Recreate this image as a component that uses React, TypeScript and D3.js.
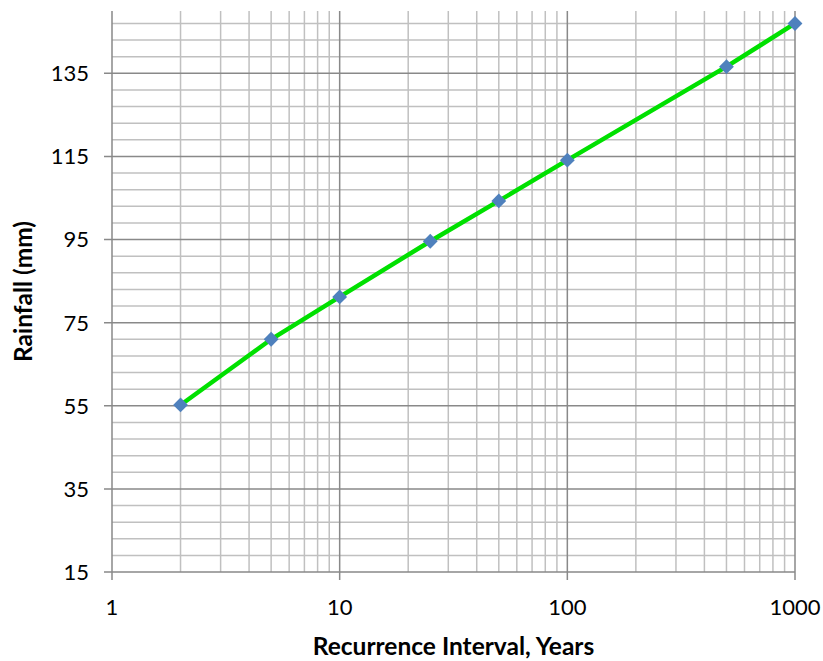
import React from 'react'
import * as d3 from 'd3'

const years = [2, 5, 10, 25, 50, 100, 500, 1000]
const rainfall = [55.2, 71.0, 81.2, 94.6, 104.3, 114.1, 136.6, 147.0]
const yTicks = [15, 35, 55, 75, 95, 115, 135]
const xTicks = [1, 10, 100, 1000]

const W = 823
const H = 661
const margin = { left: 112, right: 28, top: 11, bottom: 89 }

const App: React.FC = () => {
    const x = d3.scaleLog().domain([1, 1000]).range([margin.left, W - margin.right])
    const y = d3.scaleLinear().domain([15, 150]).range([H - margin.bottom, margin.top])

    // minor grid: 2..9 per decade, every 4 mm
    const xMinor: number[] = []
    for (const d of [1, 10, 100]) for (let k = 2; k <= 9; k++) xMinor.push(d * k)
    const yMinor = d3.range(15, 151, 4).filter((v) => (v - 15) % 20 !== 0)

    const line = d3
        .line<number>()
        .x((_, i) => x(years[i]))
        .y((d) => y(d))

    const font = 'Lato, sans-serif'
    const diamond = d3.symbol(d3.symbolSquare, 110)()

    return (
        <svg
            width={W}
            height={H}
            style={{ position: 'fixed', left: 0, top: 0, background: '#fff' }}
        >
            <g>
                {yMinor.map((v) => (
                    <line key={'ym' + v} x1={x(1)} x2={x(1000)} y1={y(v)} y2={y(v)} stroke="#c0c0c0" strokeWidth={1.5} />
                ))}
                {xMinor.map((v) => (
                    <line key={'xm' + v} x1={x(v)} x2={x(v)} y1={y(15)} y2={y(150)} stroke="#c0c0c0" strokeWidth={1.5} />
                ))}
                {yTicks.map((v) => (
                    <line key={'yM' + v} x1={x(1) - 8} x2={x(1000)} y1={y(v)} y2={y(v)} stroke="#898989" strokeWidth={1.5} />
                ))}
                {xTicks.map((v) => (
                    <line key={'xM' + v} x1={x(v)} x2={x(v)} y1={y(150)} y2={y(15) + 8} stroke="#898989" strokeWidth={1.5} />
                ))}
            </g>
            <g fontFamily={font} fontSize={22} fill="#000">
                {yTicks.map((v) => (
                    <text key={'yl' + v} x={x(1) - 23} y={y(v)} dy="0.36em" textAnchor="end">
                        {v}
                    </text>
                ))}
                {xTicks.map((v) => (
                    <text key={'xl' + v} x={x(v)} y={615} textAnchor="middle">
                        {v}
                    </text>
                ))}
            </g>
            <text x={453.5} y={655} textAnchor="middle" fontFamily={font} fontSize={24.5} fontWeight="bold">
                Recurrence Interval, Years
            </text>
            <text
                transform={`translate(32,${291.5}) rotate(-90)`}
                textAnchor="middle"
                fontFamily={font}
                fontSize={24.5}
                fontWeight="bold"
            >
                Rainfall (mm)
            </text>
            <path d={line(rainfall) || ''} fill="none" stroke="#00e000" strokeWidth={4.5} />
            {rainfall.map((v, i) => (
                <path
                    key={'p' + i}
                    d={diamond || ''}
                    transform={`translate(${x(years[i])},${y(v)}) rotate(45)`}
                    fill="#4f81bd"
                />
            ))}
        </svg>
    )
}

export default App
